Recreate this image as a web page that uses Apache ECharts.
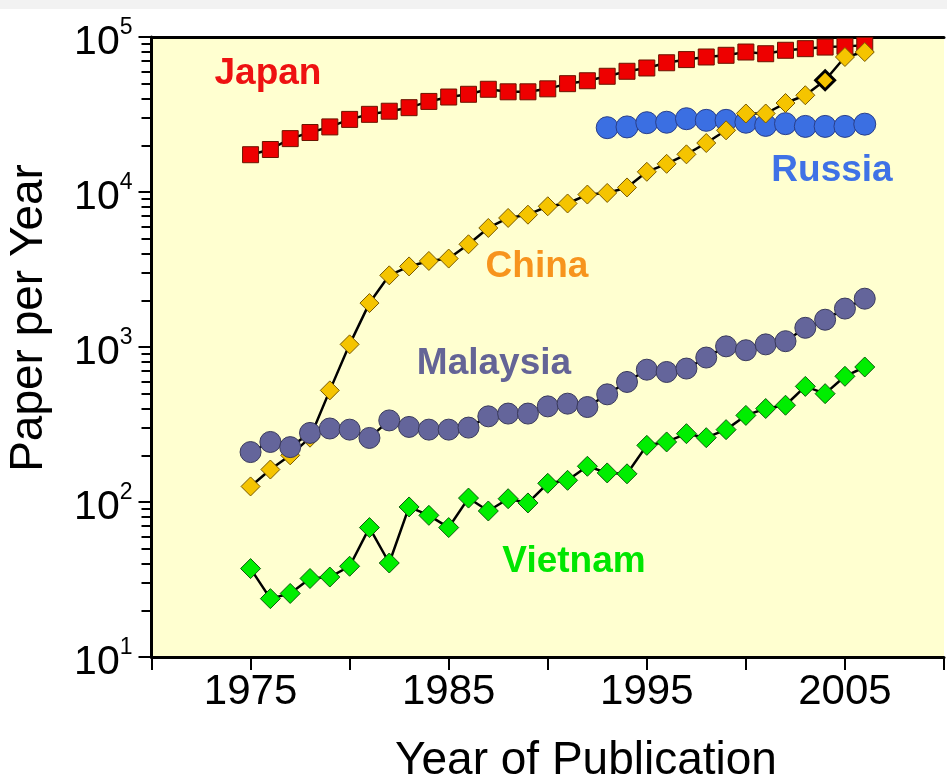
<!DOCTYPE html>
<html><head><meta charset="utf-8">
<script src="https://cdn.jsdelivr.net/npm/echarts@6/dist/echarts.min.js"></script>
<style>html,body{margin:0;padding:0;background:#fff}#c{width:947px;height:781px}</style>
</head><body><div id="c"></div><script>
const years = [1975,1976,1977,1978,1979,1980,1981,1982,1983,1984,1985,1986,1987,1988,1989,1990,1991,1992,1993,1994,1995,1996,1997,1998,1999,2000,2001,2002,2003,2004,2005,2006];
const russiaYears = [1993,1994,1995,1996,1997,1998,1999,2000,2001,2002,2003,2004,2005,2006];
const japan = [17400,18800,22100,24200,26300,29400,31700,33200,35000,38400,41000,42700,46000,44300,44300,46300,50000,52200,55800,60100,63100,68200,71500,74300,76200,80000,78000,82100,84100,86100,87000,88400];
const russia = [26000,26300,28000,28200,29700,29000,29000,28200,26900,27600,26500,26500,26500,27400];
const china = [126,162,200,260,525,1040,1920,2900,3310,3590,3720,4600,5860,6800,7140,8090,8430,9630,9860,10700,13500,15200,17500,20700,25000,32100,32100,37500,42100,52600,74300,80000];
const malaysia = [210,244,226,279,298,293,259,336,305,293,293,302,357,372,372,414,431,410,495,595,714,690,726,855,1010,953,1040,1090,1330,1500,1770,2050];
const vietnam = [37.2,23.8,25.7,32.1,32.8,38.5,68.4,40.4,92.9,82,68.4,106,87.5,105,98.6,132,138,170,154,152,232,244,276,260,293,362,401,421,557,500,647,743];
const highlightYear = 2004;
const xLabelYears = [1975,1985,1995,2005];
const minorMultipliers = [2,3,4,5,6,7,8,9];

const FONT = '"Liberation Sans", Arial, Helvetica, sans-serif';
const pairs = (xs, ys) => xs.map((x, i) => [x, ys[i]]);
const chinaData = pairs(years, china).map(p => p[0] === highlightYear
  ? { value: p, itemStyle: { borderColor: '#000', borderWidth: 3 } } : p);

// minor tick positions in log10 space for the helper axis
const minorTicks = [];
for (let d = 1; d <= 4; d++) minorMultipliers.forEach(m => minorTicks.push(d + Math.log10(m)));

const chart = echarts.init(document.getElementById('c'), null, { renderer: 'canvas' });
const lineStyle = { color: '#000', width: 2.5 };
const option = {
  animation: false,
  backgroundColor: '#fff',
  grid: { left: 151.5, right: 0, top: 37, bottom: 124, show: true, backgroundColor: '#FFFFD0', borderWidth: 0 },
  xAxis: [{
    type: 'value', min: 1970, max: 2010, interval: 5,
    axisLine: { lineStyle: { color: '#000', width: 3 } },
    axisTick: { length: 13, lineStyle: { color: '#000', width: 2 } },
    splitLine: { show: false },
    axisLabel: { margin: 14, color: '#000', fontSize: 42, fontFamily: FONT,
      formatter: v => xLabelYears.includes(v) ? String(v) : '' }
  }, {
    type: 'value', min: 1970, max: 2010, position: 'top',
    axisLine: { show: true, onZero: false, lineStyle: { color: '#000', width: 3 } },
    axisTick: { show: false }, axisLabel: { show: false }, splitLine: { show: false }
  }],
  yAxis: [{
    type: 'log', min: 10, max: 100000, logBase: 10, splitNumber: 4,
    axisLine: { show: true, lineStyle: { color: '#000', width: 3 } },
    axisTick: { show: true, length: 13, lineStyle: { color: '#000', width: 2 } },
    splitLine: { show: false },
    axisLabel: {
      margin: 19, color: '#000', fontFamily: FONT,
      formatter: v => '{a|10}{b|' + Math.round(Math.log10(v)) + '}',
      rich: {
        a: { fontSize: 41, lineHeight: 41, fontFamily: FONT, color: '#000', padding: [12, 0, 0, 0] },
        b: { fontSize: 23, lineHeight: 23, fontFamily: FONT, color: '#000', verticalAlign: 'top' }
      }
    }
  }, {
    type: 'value', min: 1, max: 5, position: 'left',
    axisLine: { show: false },
    axisTick: { show: true, length: 10, customValues: minorTicks, lineStyle: { color: '#000', width: 2 } },
    axisLabel: { show: false }, splitLine: { show: false }
  }],
  series: [
    { name: 'Japan', type: 'line', data: pairs(years, japan), symbol: 'rect', symbolSize: 16,
      itemStyle: { color: '#EE0000', borderColor: '#6a1500', borderWidth: 1 }, lineStyle },
    { name: 'Russia', type: 'line', data: pairs(russiaYears, russia), symbol: 'circle', symbolSize: 22,
      itemStyle: { color: '#3B6FE2', borderColor: '#2a3f8a', borderWidth: 1 }, lineStyle },
    { name: 'China', type: 'line', data: chinaData, symbol: 'diamond', symbolSize: 19,
      itemStyle: { color: '#F5C400', borderColor: '#7a5a00', borderWidth: 1 }, lineStyle },
    { name: 'Malaysia', type: 'line', data: pairs(years, malaysia), symbol: 'circle', symbolSize: 21,
      itemStyle: { color: '#64659B', borderColor: '#3a3a5c', borderWidth: 1 }, lineStyle },
    { name: 'Vietnam', type: 'line', data: pairs(years, vietnam), symbol: 'diamond', symbolSize: 20,
      itemStyle: { color: '#00EE00', borderColor: '#0e5a0e', borderWidth: 1 }, lineStyle }
  ],
  graphic: [
    { type: 'rect', z: -10, shape: { x: 0, y: 0, width: 947, height: 9 }, style: { fill: '#f2f2f2' } },
    { type: 'text', x: 268, y: 74, style: { text: 'Japan', font: 'bold 37px ' + FONT, fill: '#EE1111', align: 'center', verticalAlign: 'middle' } },
    { type: 'text', x: 832, y: 171, style: { text: 'Russia', font: 'bold 37px ' + FONT, fill: '#3F72E6', align: 'center', verticalAlign: 'middle' } },
    { type: 'text', x: 537, y: 267, style: { text: 'China', font: 'bold 37px ' + FONT, fill: '#F7941D', align: 'center', verticalAlign: 'middle' } },
    { type: 'text', x: 494, y: 364, style: { text: 'Malaysia', font: 'bold 37px ' + FONT, fill: '#646496', align: 'center', verticalAlign: 'middle' } },
    { type: 'text', x: 574, y: 562, style: { text: 'Vietnam', font: 'bold 37px ' + FONT, fill: '#00E600', align: 'center', verticalAlign: 'middle' } },
    { type: 'text', x: 29, y: 318, rotation: Math.PI / 2, style: { text: 'Paper per Year', font: '46px ' + FONT, fill: '#000', align: 'center', verticalAlign: 'middle' } },
    { type: 'text', x: 586, y: 761, style: { text: 'Year of Publication', font: '46px ' + FONT, fill: '#000', align: 'center', verticalAlign: 'middle' } }
  ]
};
chart.setOption(option);
</script></body></html>
